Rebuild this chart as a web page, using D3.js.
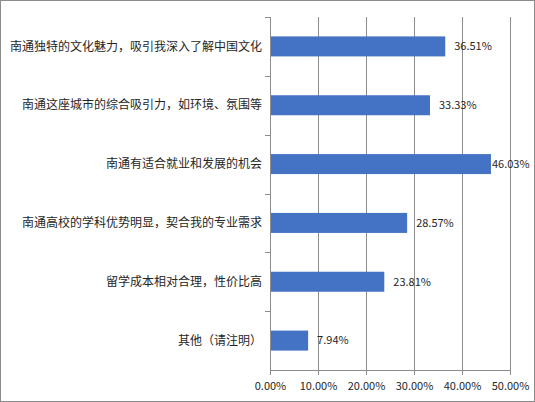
<!DOCTYPE html>
<html>
<head>
<meta charset="utf-8">
<script src="https://cdn.jsdelivr.net/npm/d3@7"></script>
<style>
  body { margin: 0; background: #fff; }
  svg { display: block; font-family: "Noto Sans CJK SC", "Noto Sans", sans-serif; }
</style>
</head>
<body>
<svg id="chart" width="535" height="402"></svg>
<script>
const categories = [
  "南通独特的文化魅力，吸引我深入了解中国文化",
  "南通这座城市的综合吸引力，如环境、氛围等",
  "南通有适合就业和发展的机会",
  "南通高校的学科优势明显，契合我的专业需求",
  "留学成本相对合理，性价比高",
  "其他（请注明）"
];
const values = [36.51, 33.33, 46.03, 28.57, 23.81, 7.94];
const xTicks = [0, 10, 20, 30, 40, 50];

const svg = d3.select("#chart");

// outer frame
svg.append("rect")
  .attr("x", 0.5).attr("y", 0.5)
  .attr("width", 534).attr("height", 401)
  .attr("fill", "#fff")
  .attr("stroke", "#8c8c8c");

const marginLeft = 270, marginTop = 17, innerW = 240, innerH = 353;
const g = svg.append("g").attr("transform", `translate(${marginLeft},${marginTop})`);

const x = d3.scaleLinear().domain([0, 50]).range([0, innerW]);
const y = d3.scaleBand().domain(categories).range([0, innerH]).paddingInner(0.66).paddingOuter(0.33);

// gridlines
g.selectAll(".grid")
  .data(xTicks.slice(1))
  .join("line")
  .attr("x1", d => x(d) + 0.5).attr("x2", d => x(d) + 0.5)
  .attr("y1", 0).attr("y2", innerH)
  .attr("stroke", "#8c8c8c")
  .attr("stroke-width", 1);

// bars
g.selectAll(".bar")
  .data(values)
  .join("rect")
  .attr("x", 0)
  .attr("y", (d, i) => y(categories[i]))
  .attr("width", d => x(d))
  .attr("height", y.bandwidth())
  .attr("fill", "#4472c4");

// value labels
g.selectAll(".val")
  .data(values)
  .join("text")
  .attr("x", d => Math.min(x(d) + 9, 222))
  .attr("y", (d, i) => y(categories[i]) + y.bandwidth() / 2)
  .attr("dy", "0.35em")
  .attr("font-size", 11)
  .attr("fill", "#262626")
  .text(d => d.toFixed(2) + "%");

// y axis line with category separators
const step = innerH / categories.length;
g.append("line")
  .attr("x1", 0.5).attr("x2", 0.5)
  .attr("y1", 0).attr("y2", innerH)
  .attr("stroke", "#8c8c8c");
g.selectAll(".ytick")
  .data(d3.range(categories.length))
  .join("line")
  .attr("x1", -5).attr("x2", 0)
  .attr("y1", i => Math.round(i * step) + 0.5)
  .attr("y2", i => Math.round(i * step) + 0.5)
  .attr("stroke", "#8c8c8c");

// category labels
g.selectAll(".cat")
  .data(categories)
  .join("text")
  .attr("x", -8)
  .attr("y", d => y(d) + y.bandwidth() / 2)
  .attr("dy", "0.35em")
  .attr("text-anchor", "end")
  .attr("font-size", 12)
  .attr("fill", "#262626")
  .text(d => d);

// x axis
const xAxis = g.append("g")
  .attr("transform", `translate(0,${innerH})`)
  .call(d3.axisBottom(x).tickValues(xTicks).tickSize(5).tickFormat(d => d.toFixed(2) + "%"));
xAxis.select(".domain").attr("stroke", "#8c8c8c").attr("d", `M0,0.5H${innerW}`);
xAxis.selectAll(".tick line").attr("stroke", "#8c8c8c");
xAxis.selectAll(".tick text")
  .attr("font-size", 11)
  .attr("fill", "#262626")
  .attr("y", 12)
  .attr("font-family", "\"Noto Sans CJK SC\", sans-serif");
</script>
</body>
</html>
